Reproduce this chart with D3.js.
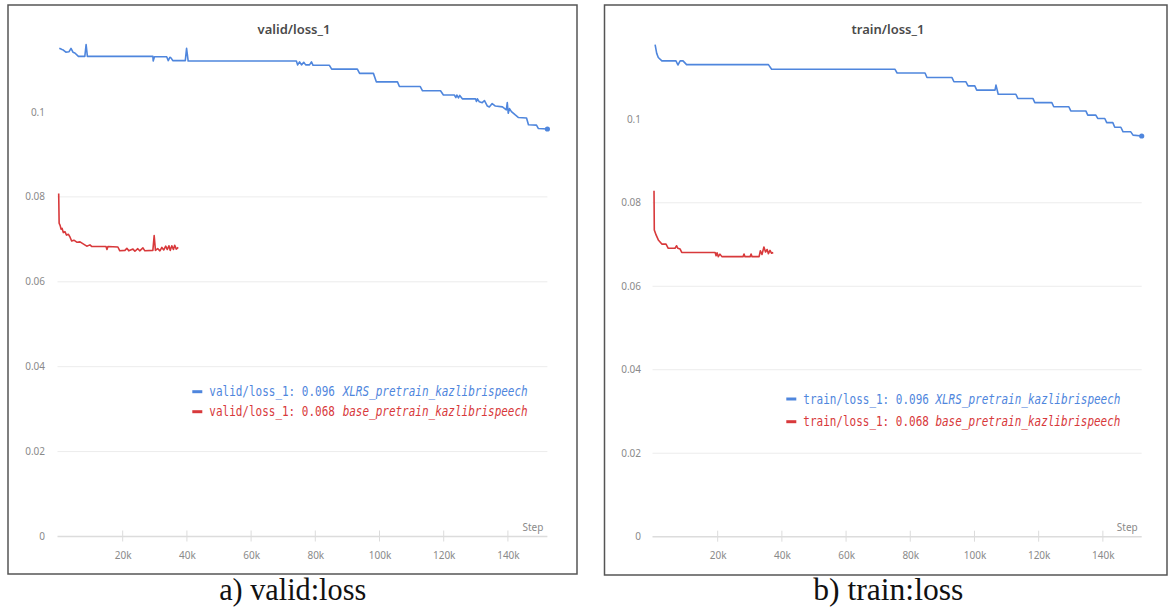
<!DOCTYPE html>
<html>
<head>
<meta charset="utf-8">
<script src="https://cdn.jsdelivr.net/npm/d3@7"></script>
<style>
  body { margin: 0; background: #fff; }
  svg { display: block; }
</style>
</head>
<body>
<div id="chart"></div>
<script>
// step (in thousands), loss
var validXlrs = [
  [0.25,0.1150],[1.1,0.1147],[1.5,0.1146],[2.3,0.1141],[3.3,0.1142],[3.9,0.1150],[4.5,0.1141],
  [5.1,0.1139],[6.2,0.1131],[8.2,0.1131],[8.6,0.1159],[9.0,0.1131],[29.4,0.1131],[29.5,0.1120],
  [29.9,0.1130],[33.7,0.1130],[34.2,0.1121],[34.7,0.1129],[35.1,0.1127],[35.6,0.1121],[39.5,0.1121],
  [39.9,0.1150],[40.4,0.1120],[74.1,0.1120],[74.5,0.1111],[75.1,0.1118],[75.7,0.1111],[76.4,0.1117],
  [77.0,0.1111],[78.2,0.1111],[78.8,0.1118],[79.3,0.1110],[84.4,0.1110],[85.1,0.1101],[93.1,0.1101],
  [93.8,0.1091],[98.1,0.1091],[99.0,0.1071],[105.6,0.1071],[106.2,0.1060],[112.7,0.1060],[113.4,0.1050],
  [119.0,0.1050],[119.9,0.1040],[123.3,0.1040],[123.8,0.1034],[124.1,0.1040],[124.6,0.1033],[125.0,0.1039],
  [125.8,0.1031],[129.9,0.1031],[130.2,0.1025],[130.5,0.1031],[131.1,0.1024],[132.0,0.1022],[132.7,0.1027],
  [133.6,0.1014],[134.2,0.1012],[135.1,0.1020],[136.1,0.1014],[138.3,0.1012],[139.5,0.1005],[139.8,0.1022],
  [140.1,0.0997],[140.5,0.1008],[141.1,0.1001],[142.3,0.0993],[143.3,0.0987],[145.8,0.0986],[146.4,0.0970],
  [148.9,0.0969],[149.5,0.0961],[152.3,0.0960]
];
var validBase = [
  [0.06,0.0808],[0.2,0.0738],[0.5,0.0733],[0.8,0.0724],[1.1,0.0726],[1.5,0.0716],[2.0,0.0718],[2.5,0.0710],
  [3.1,0.0712],[3.6,0.0705],[4.1,0.0696],[4.8,0.0698],[5.8,0.0693],[6.7,0.0694],[8.8,0.0684],[9.8,0.0687],
  [10.4,0.0683],[14.8,0.0683],[15.1,0.0676],[15.4,0.0683],[18.5,0.0682],[19.1,0.0673],[20.7,0.0674],
  [21.3,0.0679],[21.9,0.0673],[23.2,0.0677],[23.8,0.0672],[24.7,0.0678],[25.3,0.0673],[26.3,0.0680],
  [26.9,0.0673],[29.4,0.0674],[29.8,0.0709],[30.2,0.0674],[30.9,0.0678],[31.6,0.0673],[32.2,0.0681],
  [32.8,0.0675],[33.4,0.0684],[33.9,0.0676],[34.4,0.0685],[34.8,0.0674],[35.3,0.0685],[35.8,0.0676],
  [36.2,0.0686],[36.7,0.0677],[37.3,0.0681]
];
var trainXlrs = [
  [0.5,0.1179],[1.0,0.1158],[1.5,0.1148],[2.6,0.1140],[7.0,0.1140],[7.6,0.1130],[8.3,0.1140],[9.2,0.1140],
  [10.3,0.1131],[35.8,0.1131],[36.8,0.1120],[75.2,0.1120],[75.9,0.1111],[84.6,0.1111],[85.2,0.1100],
  [93.0,0.1100],[93.6,0.1090],[97.3,0.1090],[98.0,0.1080],[100.1,0.1080],[100.7,0.1070],[106.4,0.1070],
  [106.7,0.1082],[107.4,0.1060],[112.9,0.1060],[113.5,0.1050],[118.2,0.1050],[118.8,0.1040],[124.1,0.1040],
  [124.7,0.1030],[129.4,0.1030],[130.0,0.1020],[134.7,0.1020],[135.3,0.1010],[137.8,0.1010],[138.4,0.1002],
  [140.6,0.1002],[141.2,0.0992],[143.1,0.0992],[143.7,0.0981],[145.6,0.0981],[146.3,0.0970],[148.7,0.0970],
  [149.4,0.0962],[152.1,0.0960]
];
var trainBase = [
  [0.16,0.0829],[0.25,0.0735],[0.8,0.0723],[1.5,0.0711],[2.6,0.0701],[3.9,0.0701],[4.6,0.0691],[6.7,0.0691],
  [7.2,0.0697],[7.6,0.0691],[8.3,0.0689],[8.8,0.0681],[19.2,0.0681],[19.5,0.0673],[19.8,0.0680],[20.2,0.0671],
  [20.7,0.0677],[21.3,0.0671],[27.9,0.0671],[28.2,0.0677],[28.5,0.0671],[30.1,0.0671],[30.4,0.0677],
  [30.7,0.0671],[32.9,0.0671],[33.3,0.0685],[33.8,0.0676],[34.4,0.0694],[34.9,0.0682],[35.4,0.0688],
  [35.8,0.0678],[36.3,0.0686],[36.8,0.0679],[37.3,0.0681]
];
var yTicks = [0, 0.02, 0.04, 0.06, 0.08, 0.1];
var xTicks = [20, 40, 60, 80, 100, 120, 140];
var runNames = ["XLRS_pretrain_kazlibrispeech", "base_pretrain_kazlibrispeech"];
var lastValues = ["0.096", "0.068"];

var BLUE = "#4f86dd", RED = "#d8393b";

var svg = d3.select("#chart").append("svg")
  .attr("width", 1168).attr("height", 607);

// one tensorboard-like panel
function drawPanel(p) {
  var g = svg.append("g");
  g.append("rect")
    .attr("x", p.box[0]).attr("y", p.box[1])
    .attr("width", p.box[2] - p.box[0]).attr("height", p.box[3] - p.box[1])
    .attr("fill", "#fff").attr("stroke", "#555").attr("stroke-width", 1.5);

  var x = d3.scaleLinear().domain([0, p.xMax]).range(p.xRange);
  var y = d3.scaleLinear().domain([0, 0.1]).range(p.yRange);

  // grid + y labels
  g.selectAll(".grid").data(yTicks.filter(function(d){ return d > 0 && d < 0.1; }))
    .enter().append("line")
    .attr("x1", x(0) - 1).attr("x2", x(p.xMax))
    .attr("y1", function(d){ return y(d); }).attr("y2", function(d){ return y(d); })
    .attr("stroke", "#ececec").attr("stroke-width", 1);
  g.selectAll(".ylab").data(yTicks).enter().append("text")
    .attr("x", p.yLabelX).attr("y", function(d){ return y(d) + 3.5; })
    .attr("text-anchor", "end").attr("fill", "#8a8a8a")
    .style("font", "10px 'Noto Sans', sans-serif")
    .text(function(d){ return d; });

  // x axis
  var ax = g.append("g").attr("transform", "translate(0," + y(0) + ")")
    .call(d3.axisBottom(x).tickValues(xTicks).tickSize(0)
      .tickFormat(function(d){ return d + "k"; }));
  ax.select(".domain").remove();
  ax.selectAll("text").attr("dy", 0).attr("y", 22).attr("fill", "#8a8a8a")
    .style("font", "10px 'Noto Sans', sans-serif");
  g.append("line").attr("x1", x(0) - 1).attr("x2", x(p.xMax))
    .attr("y1", y(0)).attr("y2", y(0)).attr("stroke", "#dcdcdc").attr("stroke-width", 1.5);
  g.selectAll(".xt").data(xTicks).enter().append("line")
    .attr("x1", function(d){ return x(d); }).attr("x2", function(d){ return x(d); })
    .attr("y1", y(0) - 6).attr("y2", y(0) + 5)
    .attr("stroke", "#dcdcdc").attr("stroke-width", 1);
  g.append("text").attr("x", x(p.xMax) - 4).attr("y", y(0) - 6)
    .attr("text-anchor", "end").attr("fill", "#8a8a8a")
    .style("font", "10px 'Noto Sans', sans-serif").text("Step");

  // title
  g.append("text").attr("x", p.titleX).attr("y", 34).attr("text-anchor", "middle")
    .attr("fill", "#4a4a4a").style("font", "600 13px 'Noto Sans', sans-serif")
    .text(p.metric);

  var line = d3.line().x(function(d){ return x(d[0]); }).y(function(d){ return y(d[1]); });
  [[p.red, RED], [p.blue, BLUE]].forEach(function(s) {
    g.append("path").datum(s[0]).attr("d", line)
      .attr("fill", "none").attr("stroke", s[1]).attr("stroke-width", 1.6)
      .attr("stroke-linejoin", "round");
  });
  var last = p.blue[p.blue.length - 1];
  g.append("circle").attr("cx", x(last[0])).attr("cy", y(last[1])).attr("r", 2.6).attr("fill", BLUE);

  // legend: monospace at its natural size, stretched a bit vertically
  [BLUE, RED].forEach(function(c, i) {
    var ly = p.legend[1] + i * p.legend[3];
    var head = p.metric + ": " + lastValues[i] + " ";
    var total = head.length + runNames[i].length;
    var cw = p.legend[2] / total;
    g.append("line").attr("x1", p.legend[0] - 17).attr("x2", p.legend[0] - 7)
      .attr("y1", ly).attr("y2", ly).attr("stroke", c).attr("stroke-width", 3);
    var lg = g.append("g")
      .attr("transform", "translate(" + p.legend[0] + "," + (ly + 4.5) + ") scale(1,1.2)");
    lg.append("text").attr("x", 0).attr("y", 0)
      .attr("fill", c).style("font", "11px 'DejaVu Sans Mono', monospace")
      .text(head.trim());
    lg.append("text").attr("x", cw * head.length).attr("y", 0)
      .attr("fill", c).style("font", "italic 11px 'DejaVu Sans Mono', monospace")
      .text(runNames[i]);
  });

  // caption under the box
  svg.append("text").attr("x", p.captionX).attr("y", 600).attr("text-anchor", "middle")
    .attr("textLength", p.captionW).attr("lengthAdjust", "spacingAndGlyphs")
    .attr("fill", "#111").style("font", "31px 'Liberation Serif', serif")
    .text(p.caption);
}

drawPanel({
  box: [8, 5, 577, 574], xMax: 152.3, xRange: [58.5, 547.4], yRange: [536.5, 112],
  yLabelX: 45, titleX: 294, metric: "valid/loss_1",
  blue: validXlrs, red: validBase, legend: [209.3, 391.7, 320, 20],
  captionX: 292.7, captionW: 147, caption: "a) valid:loss"
});
drawPanel({
  box: [604.5, 5, 1167, 575], xMax: 152.1, xRange: [653.5, 1141.7], yRange: [536.7, 119.3],
  yLabelX: 641, titleX: 888, metric: "train/loss_1",
  blue: trainXlrs, red: trainBase, legend: [803.3, 399, 317, 22.7],
  captionX: 888.3, captionW: 150, caption: "b) train:loss"
});
</script>
</body>
</html>
